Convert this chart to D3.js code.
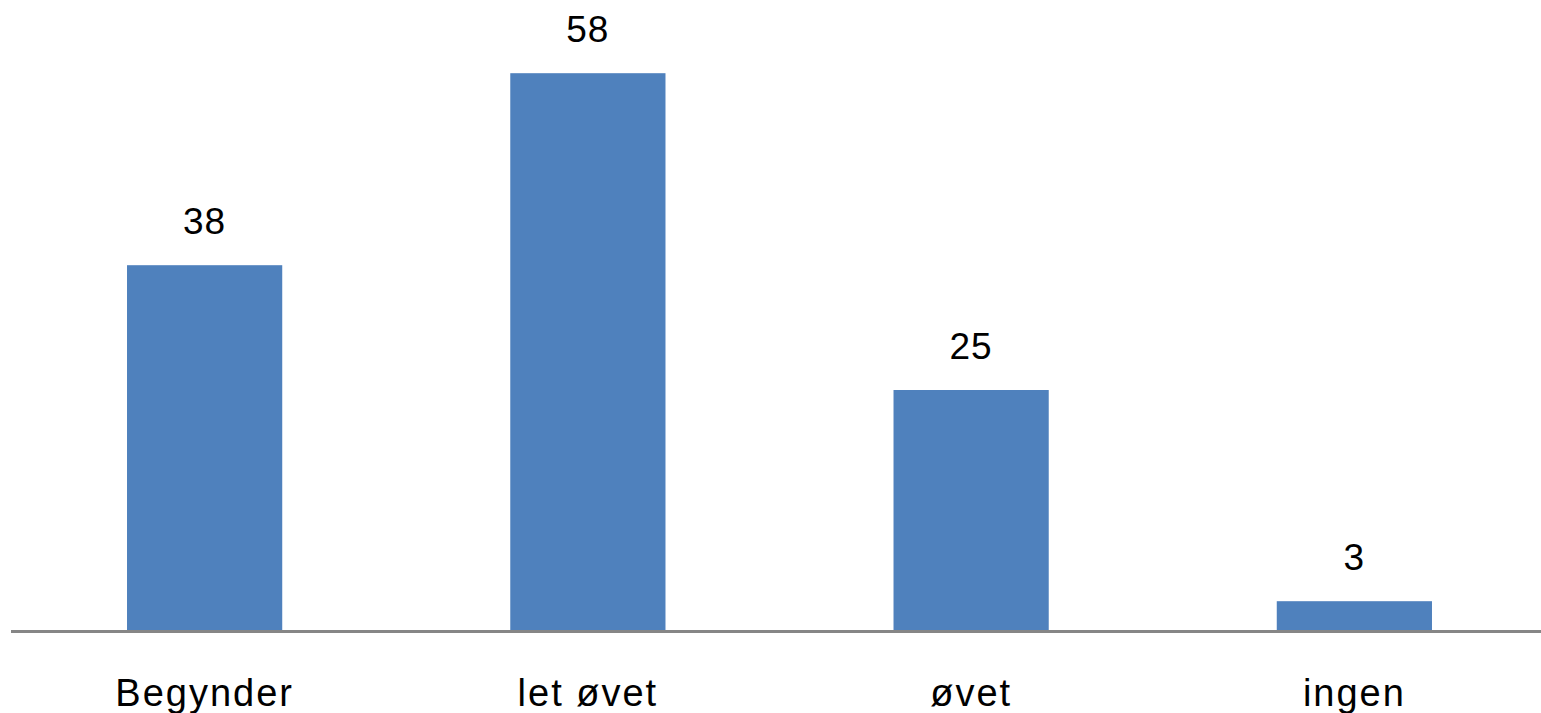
<!DOCTYPE html>
<html>
<head>
<meta charset="utf-8">
<script src="https://cdn.jsdelivr.net/npm/d3@7"></script>
<style>
  html, body { margin: 0; padding: 0; background: #fff; }
</style>
</head>
<body>
<div id="chart"></div>
<script>
const categories = ["Begynder", "let øvet", "øvet", "ingen"];
const values = [38, 58, 25, 3];

const width = 1541;
const height = 713;
const baseline = 630;

const svg = d3.select("#chart")
    .append("svg")
    .attr("width", width)
    .attr("height", height);

// Scales
const xScale = d3.scaleBand()
    .domain(categories)
    .range([13, 1546])
    .paddingInner(0.595)
    .paddingOuter(0.2975);

const yScale = d3.scaleLinear().domain([0, 60]).range([baseline, 54]);

// Bars
svg.selectAll("rect.bar")
    .data(values)
    .join("rect")
    .attr("class", "bar")
    .attr("x", (d, i) => xScale(categories[i]))
    .attr("width", xScale.bandwidth())
    .attr("y", d => yScale(d))
    .attr("height", d => yScale(0) - yScale(d))
    .attr("fill", "#4F81BD");

// Value labels
svg.selectAll("text.value")
    .data(values)
    .join("text")
    .attr("class", "value")
    .attr("x", (d, i) => xScale(categories[i]) + xScale.bandwidth() / 2)
    .attr("y", d => yScale(d) - 31)
    .attr("text-anchor", "middle")
    .style("font-family", "Liberation Sans, Arial, sans-serif")
    .style("font-size", "37px")
    .style("letter-spacing", "1px")
    .attr("fill", "#000")
    .text(d => d);

// Baseline axis
const xAxis = d3.axisBottom(xScale).tickSize(0).tickPadding(0).tickSizeOuter(0);
const axisG = svg.append("g")
    .attr("transform", `translate(0,${baseline + 1.5})`)
    .call(xAxis);

axisG.select(".domain")
    .attr("d", `M11,0H${width}`)
    .attr("stroke", "#868686")
    .attr("stroke-width", 3);

axisG.selectAll(".tick text")
    .attr("y", 74)
    .attr("dy", 0)
    .style("font-family", "Liberation Sans, Arial, sans-serif")
    .style("font-size", "38px")
    .style("letter-spacing", "2px")
    .attr("fill", "#000");
</script>
</body>
</html>
